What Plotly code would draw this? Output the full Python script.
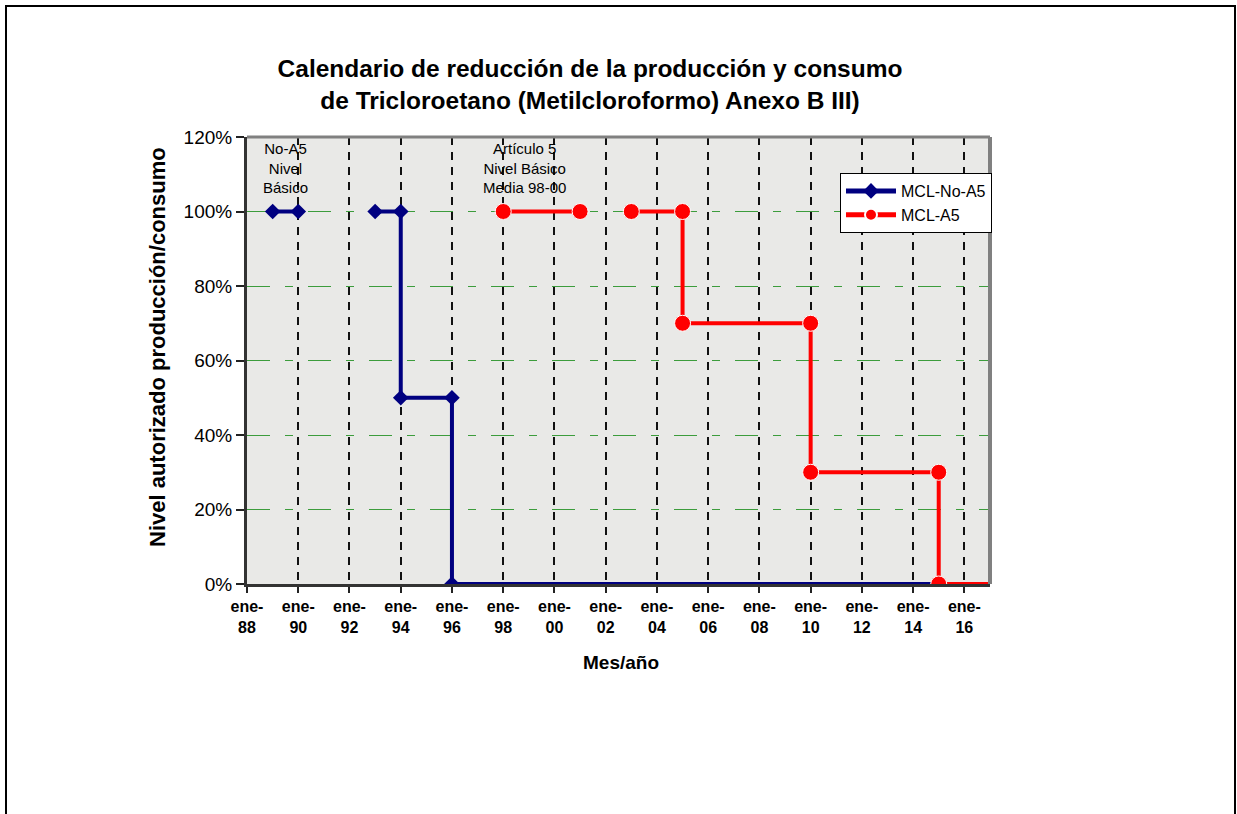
import plotly.graph_objects as go

# ---- data ----
no_a5_dates = ["1989-01-01", "1990-01-01", None, "1993-01-01", "1994-01-01",
               "1994-01-01", "1996-01-01", "1996-01-01", "2015-01-01"]
no_a5_values = [1.0, 1.0, None, 1.0, 1.0, 0.5, 0.5, 0.0, 0.0]

a5_dates = ["1998-01-01", "2001-01-01", None, "2003-01-01", "2005-01-01",
            "2005-01-01", "2010-01-01", "2010-01-01", "2015-01-01", "2015-01-01",
            "2017-04-01"]
a5_values = [1.0, 1.0, None, 1.0, 1.0, 0.7, 0.7, 0.3, 0.3, 0.0, 0.0]
a5_marker_sizes = [16, 16, 0, 16, 16, 16, 16, 16, 16, 16, 0]

x_tick_dates = ["1988-01-01", "1990-01-01", "1992-01-01", "1994-01-01", "1996-01-01",
                "1998-01-01", "2000-01-01", "2002-01-01", "2004-01-01", "2006-01-01",
                "2008-01-01", "2010-01-01", "2012-01-01", "2014-01-01", "2016-01-01"]
x_tick_labels = ["ene-<br>88", "ene-<br>90", "ene-<br>92", "ene-<br>94", "ene-<br>96",
                 "ene-<br>98", "ene-<br>00", "ene-<br>02", "ene-<br>04", "ene-<br>06",
                 "ene-<br>08", "ene-<br>10", "ene-<br>12", "ene-<br>14", "ene-<br>16"]
y_tick_values = [0, 0.2, 0.4, 0.6, 0.8, 1.0, 1.2]
y_tick_labels = ["0%", "20%", "40%", "60%", "80%", "100%", "120%"]

x_range = ["1988-01-01", "2017-01-01"]
y_range = [0, 1.2]

FONT = "Liberation Sans, Arial, sans-serif"

W, H = 1237, 814
PL, PR, PT, PB = 247, 990, 137, 584   # plot area in page pixels
PW, PH = PR - PL, PB - PT


def px(xp):
    return (xp - PL) / PW


def py(yp):
    return (PB - yp) / PH


fig = go.Figure()
fig.add_trace(go.Scatter(
    x=no_a5_dates, y=no_a5_values, name="MCL-No-A5", mode="lines+markers",
    line=dict(color="#000080", width=4),
    marker=dict(symbol="diamond", size=12, color="#000080", opacity=1),
))
fig.add_trace(go.Scatter(
    x=a5_dates, y=a5_values, name="MCL-A5", mode="lines+markers",
    line=dict(color="#ff0000", width=4),
    marker=dict(symbol="circle", size=a5_marker_sizes, color="#ff0000", opacity=1),
))

fig.update_layout(
    width=W, height=H,
    margin=dict(l=PL, r=W - PR, t=PT, b=H - PB),
    paper_bgcolor="white",
    plot_bgcolor="#e9e9e7",
    font=dict(family=FONT, color="black"),
    title=dict(
        text="<b>Calendario de reducción de la producción y consumo<br>"
             "de Tricloroetano (Metilcloroformo) Anexo B III)</b>",
        font=dict(size=24.5, family=FONT, color="black"),
        x=590 / W, xref="container", xanchor="center",
        y=1 - 77 / H, yref="container", yanchor="middle",
    ),
    showlegend=True,
    legend=dict(
        x=px(840), y=py(173), xanchor="left", yanchor="top",
        bgcolor="white", bordercolor="black", borderwidth=1,
        font=dict(size=16, family=FONT), tracegroupgap=0,
        itemwidth=50, itemsizing="constant",
    ),
)

fig.update_xaxes(
    type="date", range=x_range,
    tickmode="array", tickvals=x_tick_dates, ticktext=x_tick_labels,
    tickfont=dict(size=16, family=FONT, color="black", weight="bold"),
    ticks="outside", ticklen=6, tickwidth=1.5, tickcolor="#222",
    showline=True, linecolor="#333", linewidth=3,
    showgrid=True, gridcolor="#111", gridwidth=1.5, griddash="8px,7px",
    zeroline=False,
)
fig.update_yaxes(
    range=y_range,
    tickmode="array", tickvals=y_tick_values, ticktext=y_tick_labels,
    tickfont=dict(size=19, family=FONT, color="black"),
    ticks="outside", ticklen=8, tickwidth=1.5, tickcolor="#222",
    showline=True, linecolor="#333", linewidth=3,
    showgrid=True, gridcolor="#3c9c3c", gridwidth=1, griddash="23px,15px,8px,15px",
    zeroline=False,
)

# plot area border (top/right) and outer frame
fig.add_shape(type="line", xref="paper", yref="paper", x0=0, x1=1, y0=1, y1=1,
              line=dict(color="#808080", width=3))
fig.add_shape(type="line", xref="paper", yref="paper", x0=1, x1=1, y0=0, y1=1,
              line=dict(color="#808080", width=4))
fig.add_shape(type="rect", xref="paper", yref="paper",
              x0=px(6), x1=px(1235), y0=py(830), y1=py(6),
              line=dict(color="black", width=2), fillcolor="rgba(0,0,0,0)")

# axis titles
fig.add_annotation(text="<b>Nivel autorizado producción/consumo</b>",
                   xref="paper", yref="paper", x=px(157), y=py(347),
                   xanchor="center", yanchor="middle", textangle=-90, showarrow=False,
                   font=dict(size=22, family=FONT, color="black"))
fig.add_annotation(text="<b>Mes/año</b>",
                   xref="paper", yref="paper", x=px(621), y=py(662),
                   xanchor="center", yanchor="middle", showarrow=False,
                   font=dict(size=19, family=FONT, color="black"))

# in-plot labels
fig.add_annotation(text="No-A5<br>Nivel<br>Básico",
                   xref="paper", yref="paper", x=px(285), y=py(168),
                   xanchor="center", yanchor="middle", showarrow=False,
                   font=dict(size=15, family=FONT, color="black"))
fig.add_annotation(text="Artículo 5<br>Nivel Básico<br>Media 98-00",
                   xref="paper", yref="paper", x=px(524), y=py(168),
                   xanchor="center", yanchor="middle", showarrow=False,
                   font=dict(size=15, family=FONT, color="black"))

fig.write_html("out.html",
               config={"displayModeBar": False},
               post_script="document.body.style.margin='0';document.body.style.overflow='hidden';")
